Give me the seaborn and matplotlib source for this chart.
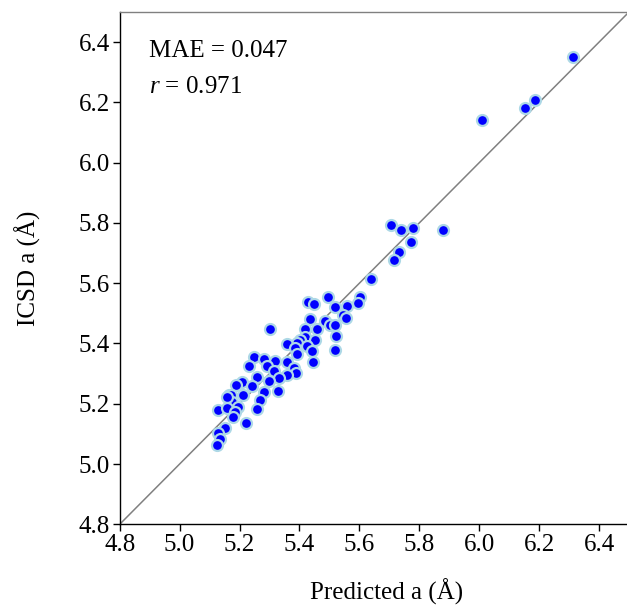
import matplotlib
matplotlib.use("Agg")
import matplotlib.pyplot as plt
import seaborn as sns
import pandas as pd

predicted = [6.312, 6.154, 6.185, 6.008,
             5.706, 5.738, 5.778, 5.878, 5.771, 5.732, 5.716,
             5.638,
             5.496, 5.430, 5.447, 5.602, 5.596, 5.560, 5.519, 5.545, 5.554, 5.434,
             5.485, 5.502, 5.517, 5.302, 5.419, 5.458, 5.521, 5.419, 5.452, 5.402,
             5.392, 5.360, 5.424, 5.385, 5.441, 5.517, 5.391, 5.248, 5.283, 5.320,
             5.446, 5.359, 5.232, 5.291, 5.383, 5.315, 5.387, 5.357, 5.258, 5.332,
             5.298, 5.208, 5.187, 5.242, 5.282, 5.327, 5.165, 5.173, 5.210, 5.268,
             5.174, 5.157, 5.127, 5.157, 5.196, 5.185, 5.257, 5.178, 5.223, 5.153,
             5.127, 5.136, 5.124]
icsd = [6.350, 6.181, 6.209, 6.140,
        5.792, 5.778, 5.783, 5.778, 5.737, 5.702, 5.676,
        5.613,
        5.553, 5.538, 5.530, 5.553, 5.533, 5.524, 5.521, 5.494, 5.483, 5.480,
        5.475, 5.463, 5.461, 5.449, 5.449, 5.447, 5.424, 5.422, 5.413, 5.413,
        5.401, 5.398, 5.391, 5.384, 5.376, 5.377, 5.365, 5.356, 5.347, 5.342,
        5.339, 5.338, 5.325, 5.325, 5.320, 5.308, 5.301, 5.295, 5.288, 5.285,
        5.275, 5.273, 5.261, 5.259, 5.239, 5.243, 5.229, 5.229, 5.229, 5.214,
        5.206, 5.221, 5.179, 5.185, 5.190, 5.173, 5.183, 5.157, 5.135, 5.118,
        5.104, 5.082, 5.063]
ticks = [4.8, 5.0, 5.2, 5.4, 5.6, 5.8, 6.0, 6.2, 6.4]
lims = [4.8, 6.5]

sns.set_style("ticks")
plt.rcParams["font.family"] = ["Liberation Serif", "DejaVu Serif"]
plt.rcParams["mathtext.fontset"] = "custom"
plt.rcParams["mathtext.rm"] = "Liberation Serif"
plt.rcParams["mathtext.it"] = "Liberation Serif:italic"
plt.rcParams["text.color"] = "black"
plt.rcParams["axes.labelcolor"] = "black"
plt.rcParams["xtick.color"] = "black"
plt.rcParams["ytick.color"] = "black"

df = pd.DataFrame({"pred": predicted, "icsd": icsd})

fig = plt.figure(figsize=(6.27, 6.06), dpi=100)
ax = fig.add_axes([119.7 / 627, (606 - 524.3) / 606, 509.3 / 627, 512.3 / 606])

ax.plot(lims, lims, color="#808080", lw=1.1, zorder=1)
sns.scatterplot(data=df, x="pred", y="icsd", ax=ax, color="#0000ff",
                edgecolor="#add8e6", linewidth=1.6, s=62, zorder=2)

ax.set_xlim(lims)
ax.set_ylim(lims)
ax.set_xticks(ticks)
ax.set_yticks(ticks)
ax.set_xticklabels([f"{t:.1f}" for t in ticks], fontsize=18)
ax.set_yticklabels([f"{t:.1f}" for t in ticks], fontsize=18)
ax.tick_params(direction="out", length=5, width=1, colors="black", pad=2)

for s in ["left", "bottom"]:
    ax.spines[s].set_color("black")
    ax.spines[s].set_linewidth(1)
ax.spines["top"].set_color("#808080")
ax.spines["top"].set_linewidth(1)
ax.spines["right"].set_visible(False)

ax.set_xlabel("Predicted a (Å)", fontsize=18, color="black")
ax.set_ylabel("ICSD a (Å)", fontsize=18, color="black")
ax.xaxis.set_label_coords((387 - 119.7) / 509.3, -(592 - 524.3) / 512.3)
ax.yaxis.set_label_coords(-(119.7 - 28) / 509.3, 0.5)
ax.xaxis.label.set_va("center")
ax.yaxis.label.set_va("center")

ax.text(0.058, 0.913, "MAE = 0.047", transform=ax.transAxes,
        fontsize=18, va="baseline", ha="left", color="black")
ax.text(0.058, 0.841, r"$r$ = 0.971", transform=ax.transAxes,
        fontsize=18, va="baseline", ha="left", color="black")

fig.savefig("out.png", dpi=100)
